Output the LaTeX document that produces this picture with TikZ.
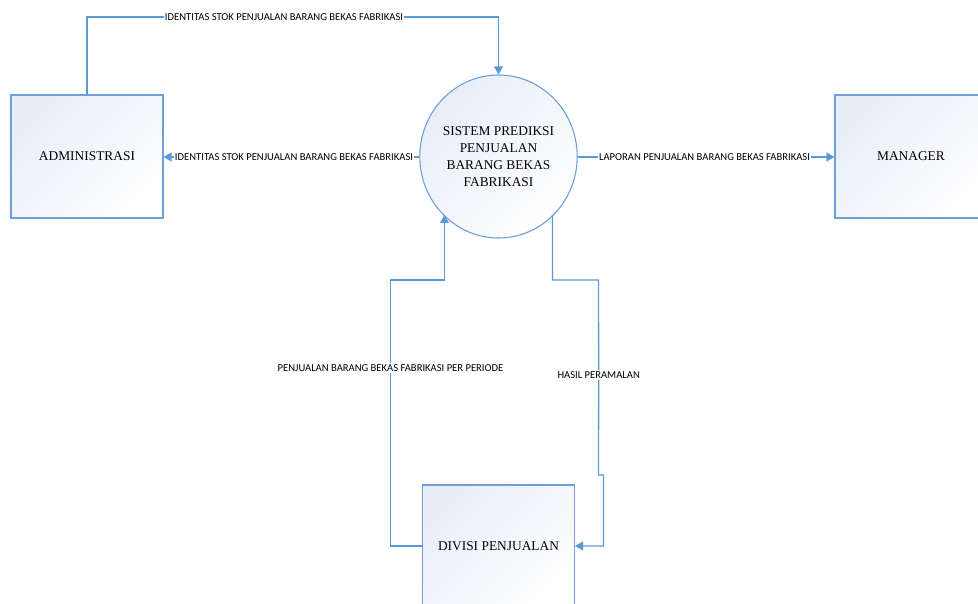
\documentclass[tikz,border=0pt]{standalone}
\usepackage{fontspec}
\setmainfont{Liberation Serif}
\newfontfamily\lblfont{Carlito}
\usetikzlibrary{arrows.meta,shapes.geometric}
\definecolor{flowblue}{HTML}{5B9BD5}
\definecolor{edgeblue}{HTML}{6F9FD6}
\definecolor{fillblue}{HTML}{E8EDF8}
\tikzset{
  entity/.style={rectangle, draw=edgeblue, line width=1.1pt,
    minimum width=152pt, minimum height=123pt, inner sep=0pt,
    top color=fillblue, bottom color=white, shading angle=45,
    font=\fontsize{13.4}{17}\selectfont},
  process/.style={ellipse, draw=edgeblue, line width=1.1pt,
    minimum width=152pt, minimum height=163pt, inner sep=0pt,
    top color=fillblue, bottom color=white, shading angle=45,
    align=center, font=\fontsize{13.4}{17}\selectfont},
  flow/.style={draw=flowblue, line width=1.3pt},
  flowarrow/.style={flow, -{Triangle[length=8pt,width=9pt]}},
  flowlabel/.style={fill=white, inner sep=1pt, text=black,
    font=\lblfont\fontsize{10.6}{12}\selectfont}
}
\begin{document}
\begin{tikzpicture}[x=1pt,y=-1pt]
\useasboundingbox (0,0) rectangle (978,604);
\clip (0,0) rectangle (978,604);

% external entities and the central process
\node[entity] (admin) at (87,156.5) {ADMINISTRASI};
\node[entity] (manager) at (911,156.5) {MANAGER};
\node[entity] (divisi) at (498.5,546.5) {DIVISI PENJUALAN};
\node[process] (sys) at (498.5,156.5) {SISTEM PREDIKSI\\PENJUALAN\\BARANG BEKAS\\FABRIKASI};

% flow labels
\node[flowlabel] (lTop) at (284,17) {IDENTITAS STOK PENJUALAN BARANG BEKAS FABRIKASI};
\node[flowlabel] (lMid) at (294,157) {IDENTITAS STOK PENJUALAN BARANG BEKAS FABRIKASI};
\node[flowlabel] (lRight) at (704.5,157) {LAPORAN PENJUALAN BARANG BEKAS FABRIKASI};
\node[flowlabel] (lSales) at (390.5,368) {PENJUALAN BARANG BEKAS FABRIKASI PER PERIODE};
\node[flowlabel] (lHasil) at (598.7,375) {HASIL PERAMALAN};

% bend points of the routed flows
\coordinate (sIn) at (444.5,215);
\coordinate (sOut) at (552.5,215);
\coordinate (a1) at (390.5,546);
\coordinate (a2) at (390.5,280);
\coordinate (a3) at (444.5,280);
\coordinate (b1) at (552.5,280);
\coordinate (b2) at (598.5,280);
\coordinate (b3) at (598.5,475);
\coordinate (b4) at (603.5,475);
\coordinate (b5) at (603.5,546);

% administrasi -> sistem (over the top)
\draw[flow] (admin.north) |- (lTop.west);
\draw[flowarrow] (lTop.east) -| (sys.north);

% sistem -> administrasi
\draw[flow] (sys.west |- lMid) -- (lMid.east);
\draw[flowarrow] (lMid.west) -- (admin.east |- lMid);

% sistem -> manager
\draw[flow] (sys.east |- lRight) -- (lRight.west);
\draw[flowarrow] (lRight.east) -- (manager.west |- lRight);

% divisi penjualan -> sistem
\draw[flow] (divisi.west |- a1) -- (a1) -- (lSales.south);
\draw[flowarrow] (lSales.north) -- (a2) -- (a3) -- (sIn);

% sistem -> divisi penjualan
\draw[flow] (sOut) -- (b1) -- (b2) -- (lHasil.north);
\draw[flowarrow] (lHasil.south) -- (b3) -- (b4) -- (b5) -- (divisi.east |- b5);
\end{tikzpicture}
\end{document}
